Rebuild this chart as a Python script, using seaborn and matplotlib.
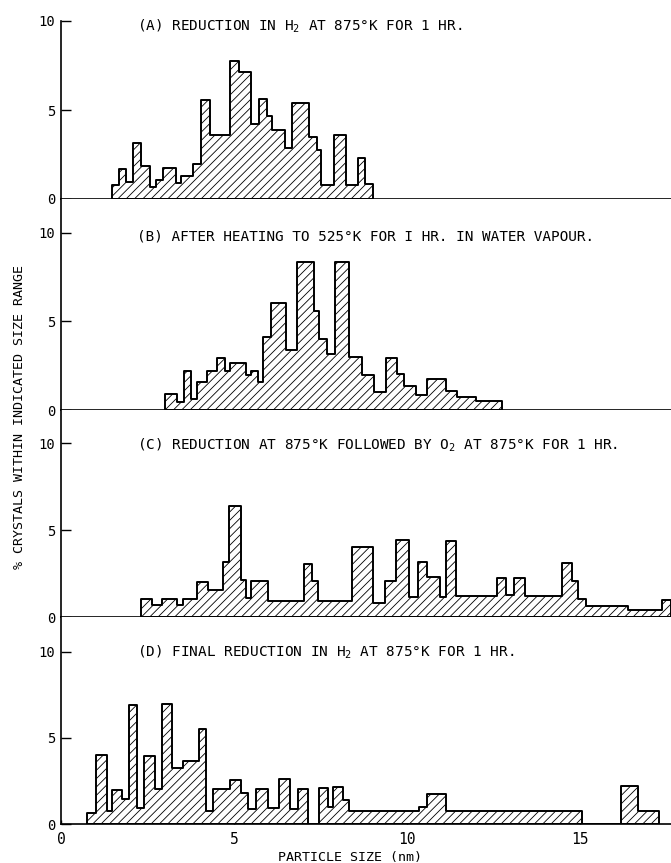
import numpy as np
import pandas as pd
import matplotlib
matplotlib.use("Agg")
import matplotlib.pyplot as plt
import seaborn as sns

# --- DATA: bin edges (nm) and % of crystals per bin ---
edges_a = [1.47, 1.68, 1.87, 2.09, 2.32, 2.57, 2.74, 2.95, 3.31, 3.46, 3.82, 4.05, 4.30,
           4.87, 5.14, 5.48, 5.71, 5.96, 6.11, 6.46, 6.67, 7.17, 7.39, 7.50, 7.89, 8.23,
           8.58, 8.79, 9.03]
pct_a = [0.80, 1.67, 0.95, 3.14, 1.88, 0.66, 1.08, 1.73, 0.91, 1.32, 1.94, 5.55, 3.57,
         7.74, 7.12, 4.22, 5.59, 4.67, 3.89, 2.85, 5.37, 3.47, 2.74, 0.78, 3.57, 0.80,
         2.28, 0.83]

edges_b = [3.01, 3.36, 3.55, 3.77, 3.94, 4.23, 4.52, 4.74, 4.87, 5.36, 5.50, 5.69, 5.85,
           6.06, 6.49, 6.83, 7.31, 7.46, 7.70, 7.92, 8.32, 8.71, 9.05, 9.38, 9.72, 9.91,
           10.25, 10.59, 11.12, 11.45, 11.99, 12.75]
pct_b = [0.90, 0.47, 2.20, 0.60, 1.57, 2.20, 2.95, 2.20, 2.66, 1.95, 2.20, 1.60, 4.12,
         6.05, 3.37, 8.37, 5.60, 3.99, 3.14, 8.37, 2.99, 1.95, 1.01, 2.94, 2.05, 1.35,
         0.86, 1.77, 1.05, 0.73, 0.48]

edges_c = [2.30, 2.62, 2.91, 3.34, 3.53, 3.92, 4.25, 4.69, 4.86, 5.19, 5.34, 5.48, 5.99,
           7.02, 7.26, 7.44, 8.40, 9.03, 9.36, 9.69, 10.06, 10.33, 10.59, 10.94, 11.14,
           11.43, 12.61, 12.87, 13.09, 13.41, 14.47, 14.76, 14.95, 15.16, 16.40, 17.36, 17.62]
pct_c = [1.02, 0.69, 1.02, 0.69, 1.02, 2.03, 1.55, 3.18, 6.38, 2.13, 1.07, 2.09, 0.94,
         3.03, 2.09, 0.94, 4.04, 0.79, 2.09, 4.40, 1.17, 3.16, 2.28, 1.17, 4.39, 1.23,
         2.22, 1.26, 2.22, 1.23, 3.08, 2.07, 1.03, 0.63, 0.40, 0.98]

edges_d = [0.76, 1.00, 1.32, 1.48, 1.77, 1.97, 2.21, 2.40, 2.72, 2.91, 3.20, 3.54, 3.99,
           4.18, 4.39, 4.88, 5.21, 5.41, 5.64, 5.99, 6.30, 6.61, 6.86, 7.15, 7.46, 7.73,
           7.86, 8.15, 8.32, 10.35, 10.57, 11.14, 15.07, 16.18, 16.69, 17.29]
pct_d = [0.63, 3.98, 0.73, 1.95, 1.46, 6.89, 0.92, 3.92, 2.05, 6.95, 3.27, 3.65, 5.53,
         0.78, 2.05, 2.57, 1.81, 0.88, 2.05, 0.92, 2.63, 0.88, 2.05, 0.00, 2.08, 0.98,
         2.14, 1.37, 0.73, 0.98, 1.76, 0.73, 0.00, 2.18, 0.73]

titles = [
    "(A) REDUCTION IN H$_2$ AT 875°K FOR 1 HR.",
    "(B) AFTER HEATING TO 525°K FOR I HR. IN WATER VAPOUR.",
    "(C) REDUCTION AT 875°K FOLLOWED BY O$_2$ AT 875°K FOR 1 HR.",
    "(D) FINAL REDUCTION IN H$_2$ AT 875°K FOR 1 HR.",
]
y_ticks = [0, 5, 10]
x_ticks = [0, 5, 10, 15]

# --- STYLE ---
sns.set_style("white")
plt.rcParams['font.family'] = ['DejaVu Sans Mono', 'DejaVu Sans']
plt.rcParams['mathtext.fontset'] = 'custom'
plt.rcParams['mathtext.rm'] = 'DejaVu Sans Mono'
plt.rcParams['mathtext.it'] = 'DejaVu Sans Mono'
plt.rcParams['text.color'] = 'black'
plt.rcParams['hatch.linewidth'] = 0.6
plt.rcParams['hatch.color'] = 'black'

W, H = 671, 863
fig = plt.figure(figsize=(W / 100, H / 100), dpi=100)

panels = [(edges_a, pct_a), (edges_b, pct_b), (edges_c, pct_c), (edges_d, pct_d)]
base_px = [199, 410, 617, 824]   # pixel row of y=0 for each panel
top_px = [21, 199, 410, 617]     # pixel row of the top of each panel
y_top = [10.0, 11.9, 11.9, 12.0]
title_y = [26, 237, 445, 652]
x0_px = 61
x_max = 17.63

for i, (edges, pct) in enumerate(panels):
    ax = fig.add_axes([x0_px / W, 1 - base_px[i] / H, (W - x0_px) / W,
                       (base_px[i] - top_px[i]) / H])
    e = np.array(edges)
    df = pd.DataFrame({'size': (e[:-1] + e[1:]) / 2, 'pct': pct})
    sns.histplot(data=df, x='size', weights='pct', bins=list(edges), element='step',
                 fill=True, facecolor='white', edgecolor='black', hatch='////',
                 linewidth=1.4, alpha=1, ax=ax)
    ax.set_xlim(0, x_max)
    ax.set_ylim(0, y_top[i])
    ax.set_xlabel('')
    ax.set_ylabel('')
    sns.despine(ax=ax)
    for s in ['left', 'bottom']:
        ax.spines[s].set_color('black')
        ax.spines[s].set_linewidth(1.2)
    ax.set_yticks(y_ticks)
    ax.tick_params(axis='y', left=True, direction='in', length=7, width=1,
                   pad=4, labelsize=10, colors='black')
    ax.set_xticks(x_ticks)
    if i == 3:
        ax.tick_params(axis='x', bottom=True, direction='in', length=3, width=1,
                       pad=6, labelsize=10.5, colors='black')
    else:
        ax.tick_params(axis='x', bottom=False, labelbottom=False)
    fig.text(137 / W, 1 - title_y[i] / H, titles[i], ha='left', va='center',
             fontsize=10.4)

fig.text(20 / W, 1 - 417 / H, '% CRYSTALS WITHIN INDICATED SIZE RANGE',
         rotation=90, ha='center', va='center', fontsize=9.6)
fig.text(350 / W, 1 - 857 / H, 'PARTICLE SIZE (nm)', ha='center', va='center',
         fontsize=9.6)

fig.savefig('out.png', dpi=100)
plt.close()
